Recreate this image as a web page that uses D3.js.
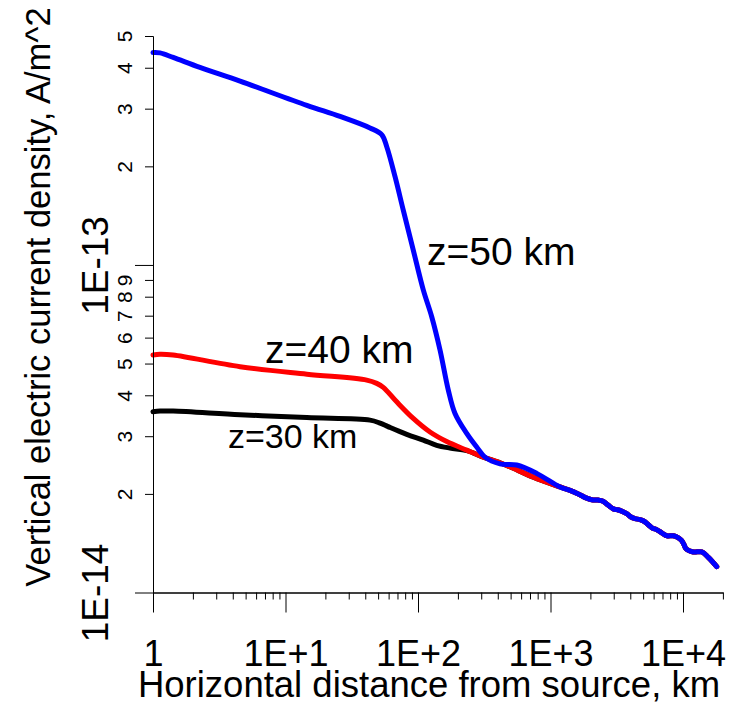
<!DOCTYPE html>
<html>
<head>
<meta charset="utf-8">
<script src="https://cdn.jsdelivr.net/npm/d3@7"></script>
<style>
  html, body { margin: 0; padding: 0; background: #ffffff; }
  svg { display: block; }
  text { font-family: "Liberation Sans", Arial, Helvetica, sans-serif; fill: #000; }
</style>
</head>
<body>
<svg id="chart" width="735" height="702"></svg>
<script>
// Horizontal distance from source (km) and vertical current density (A/m^2)
const dist50 = [1, 1.13, 1.42, 2.26, 4.54, 14.5, 25.8, 43.4, 53.2, 58.0, 67.1, 77.4, 92.1, 109.6,
  126.9, 146.6, 169.3, 190.2, 233.1, 277.3, 320.3, 415.8, 555.9, 787];
const dens50 = [4.45e-13, 4.44e-13, 4.30e-13, 4.01e-13, 3.64e-13, 3.07e-13, 2.84e-13, 2.62e-13,
  2.50e-13, 2.30e-13, 1.86e-13, 1.47e-13, 1.11e-13, 8.39e-14, 6.95e-14, 5.50e-14, 4.15e-14,
  3.52e-14, 3.06e-14, 2.78e-14, 2.59e-14, 2.47e-14, 2.45e-14, 2.31e-14];

const dist40 = [1, 1.13, 1.42, 4.54, 14.5, 41.0, 48.8, 54.7, 69.1, 92.1, 123.2, 164.6, 233.1,
  311, 415.8, 494, 741.6];
const dens40 = [5.31e-14, 5.34e-14, 5.31e-14, 4.89e-14, 4.64e-14, 4.45e-14, 4.35e-14, 4.23e-14,
  3.82e-14, 3.40e-14, 3.09e-14, 2.89e-14, 2.72e-14, 2.59e-14, 2.49e-14, 2.42e-14, 2.25e-14];

const dist30 = [1, 1.13, 1.42, 4.54, 14.5, 43.4, 51.7, 59.4, 82.2, 109.6, 138.4, 174.4, 233.1,
  311, 415.8, 494, 741.6];
const dens30 = [3.565e-14, 3.58e-14, 3.58e-14, 3.49e-14, 3.42e-14, 3.36e-14, 3.29e-14, 3.21e-14,
  3.04e-14, 2.92e-14, 2.815e-14, 2.76e-14, 2.71e-14, 2.59e-14, 2.49e-14, 2.42e-14, 2.25e-14];

// Far field, common to all three altitudes
const distFar = [1180, 1404, 1621, 1853, 2046, 2283, 2490, 2716, 2979, 3177, 3404, 3759, 4050,
  4341, 4738, 5078, 5472, 5834, 6331, 6705, 7101, 7572, 8451, 9169, 9776, 10175, 10535, 11960,
  13840, 15520, 17960];
const densFar = [2.10e-14, 2.05e-14, 2.00e-14, 1.945e-14, 1.92e-14, 1.915e-14, 1.90e-14, 1.85e-14,
  1.80e-14, 1.79e-14, 1.775e-14, 1.74e-14, 1.70e-14, 1.68e-14, 1.67e-14, 1.65e-14, 1.61e-14,
  1.575e-14, 1.555e-14, 1.535e-14, 1.51e-14, 1.49e-14, 1.49e-14, 1.47e-14, 1.44e-14, 1.40e-14,
  1.36e-14, 1.33e-14, 1.33e-14, 1.28e-14, 1.20e-14];

const seriesNames = ["z=30 km", "z=40 km", "z=50 km"];
const seriesColors = ["#000000", "#ff0000", "#0000ff"];

// Axis ticks
const xMajorTicks = [1, 10, 100, 1000, 10000];
const xMajorLabels = ["1", "1E+1", "1E+2", "1E+3", "1E+4"];
const xMinorTicks = [2,3,4,5,6,7,8,9, 20,30,40,50,60,70,80,90, 200,300,400,500,600,700,800,900,
  2000,3000,4000,5000,6000,7000,8000,9000, 20000];
const yMajorTicks = [1e-14, 1e-13];
const yMajorLabels = ["1E-14", "1E-13"];
const yMinorTicks = [2e-14, 3e-14, 4e-14, 5e-14, 6e-14, 7e-14, 8e-14, 9e-14, 2e-13, 3e-13, 4e-13, 5e-13];
const yMinorLabels = ["2", "3", "4", "5", "6", "7", "8", "9", "2", "3", "4", "5"];

const svg = d3.select("#chart");

const x = d3.scaleLog().domain([1, 20000]).range([153, 722.9]);
const y = d3.scaleLog().domain([1e-14, 5e-13]).range([592.5, 36]);

// Curves
const series = [
  { d: dist30.concat(distFar), v: dens30.concat(densFar) },
  { d: dist40.concat(distFar), v: dens40.concat(densFar) },
  { d: dist50.concat(distFar), v: dens50.concat(densFar) }
];

const line = d3.line()
  .x(p => x(p[0]))
  .y(p => y(p[1]))
  .curve(d3.curveCatmullRom.alpha(0.5));

svg.append("g").selectAll("path")
  .data(series)
  .join("path")
  .attr("d", s => line(s.d.map((dv, i) => [dv, s.v[i]])))
  .attr("fill", "none")
  .attr("stroke", (s, i) => seriesColors[i])
  .attr("stroke-width", 5)
  .attr("stroke-linejoin", "round")
  .attr("stroke-linecap", "round");

// X axis: minor ticks, then labelled decades
svg.append("g").attr("transform", "translate(0,592.5)")
  .call(d3.axisBottom(x).tickValues(xMinorTicks).tickSize(7).tickSizeOuter(0).tickFormat(""));
const xMajor = svg.append("g").attr("transform", "translate(0,592.5)")
  .call(d3.axisBottom(x).tickValues(xMajorTicks).tickSize(20).tickSizeOuter(0).tickPadding(28)
    .tickFormat((d, i) => xMajorLabels[i]));
xMajor.selectAll("text").attr("font-size", 36);

// Y axis: rotated labels
const yMinor = svg.append("g").attr("transform", "translate(153,0)")
  .call(d3.axisLeft(y).tickValues(yMinorTicks).tickSize(8).tickSizeOuter(0)
    .tickFormat((d, i) => yMinorLabels[i]));
yMinor.selectAll("text")
  .attr("x", null).attr("dy", null)
  .attr("text-anchor", "middle")
  .attr("font-size", 21)
  .attr("transform", "translate(-21,0) rotate(-90)");

const yMajor = svg.append("g").attr("transform", "translate(153,0)")
  .call(d3.axisLeft(y).tickValues(yMajorTicks).tickSize(18).tickSizeOuter(0)
    .tickFormat((d, i) => yMajorLabels[i]));
yMajor.selectAll("text")
  .attr("x", null).attr("dy", null)
  .attr("text-anchor", "middle")
  .attr("font-size", 37)
  .attr("transform", "translate(-45,0) rotate(-90)");

svg.selectAll(".domain, .tick line").attr("stroke", "#000").attr("stroke-width", 1);
svg.selectAll(".tick text").attr("font-family", "Liberation Sans, Arial, sans-serif").attr("fill", "#000");

// Axis titles
svg.append("text")
  .attr("x", 429).attr("y", 697)
  .attr("text-anchor", "middle")
  .attr("font-size", 36.5)
  .text("Horizontal distance from source, km");

svg.append("text")
  .attr("transform", "translate(50,297) rotate(-90)")
  .attr("text-anchor", "middle")
  .attr("font-size", 34.5)
  .text("Vertical electric current density, A/m^2");

// Curve labels
const labelPos = [[228, 448, 34], [265, 363, 39], [427, 265, 39]];
svg.append("g").selectAll("text")
  .data(seriesNames)
  .join("text")
  .attr("x", (d, i) => labelPos[i][0])
  .attr("y", (d, i) => labelPos[i][1])
  .attr("font-size", (d, i) => labelPos[i][2])
  .text(d => d);
</script>
</body>
</html>
